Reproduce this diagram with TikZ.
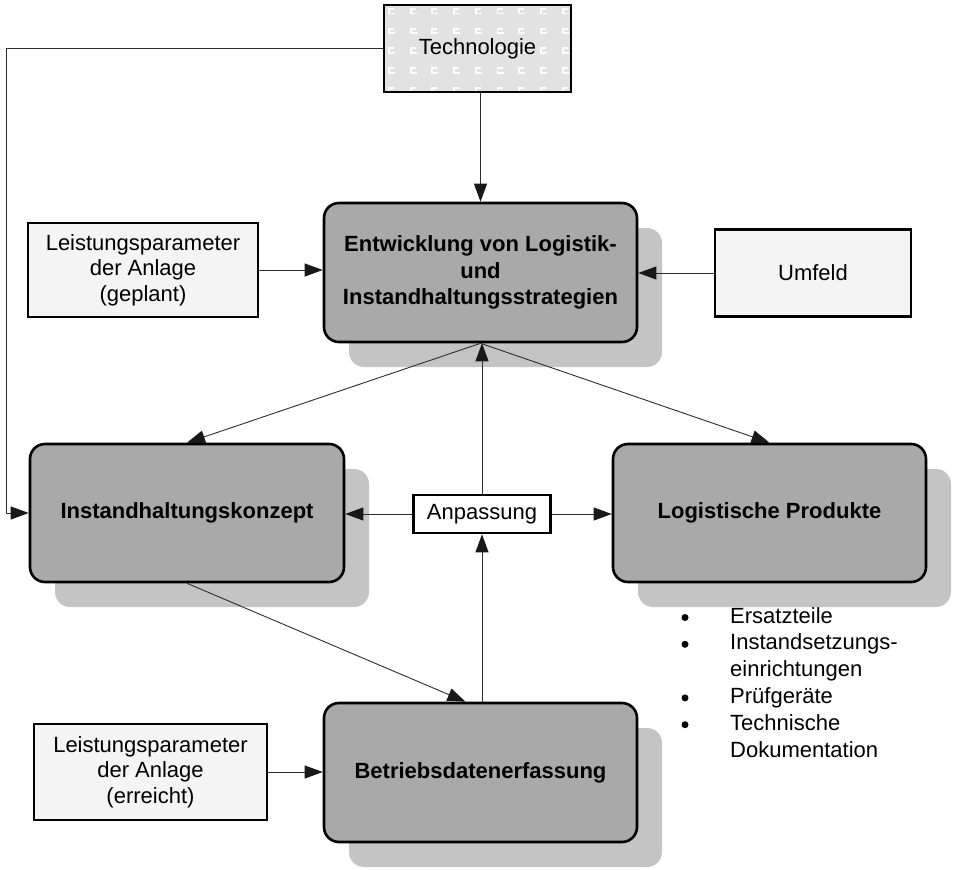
\documentclass[tikz,border=0pt]{standalone}
\usepackage{fontspec}
\setmainfont{Liberation Sans}
\usetikzlibrary{arrows.meta,shadows}
\definecolor{boxgray}{RGB}{169,169,169}
\definecolor{shadowgray}{RGB}{196,196,196}
\definecolor{techgray}{RGB}{226,226,226}
\definecolor{inputfill}{RGB}{244,244,244}
\definecolor{linegray}{RGB}{45,45,45}

\begin{document}
\begin{tikzpicture}[x=1pt,y=-1pt,
  mainbox/.style={draw=black, line width=2.6pt, fill=boxgray, rounded corners=15pt,
    minimum width=313pt, minimum height=139pt, inner sep=0pt, align=center,
    font=\fontsize{22}{26.5}\selectfont\bfseries,
    drop shadow={shadow xshift=25pt, shadow yshift=-25pt, fill=shadowgray, opacity=1}},
  inputbox/.style={draw=black, line width=2.6pt, fill=inputfill, inner sep=0pt,
    align=center, font=\fontsize{22}{25.5}\selectfont},
  techbox/.style={draw=black, line width=2.6pt, fill=techgray, inner sep=0pt,
    minimum width=187pt, minimum height=87pt, font=\fontsize{22}{25.5}\selectfont,
    path picture={
      \foreach \i in {0,...,8}
        \foreach \j in {0,...,4}
          \draw[white, line width=1.9pt]
            ([shift={(10+\i*21.7,4+\j*19.7)}]path picture bounding box.north west)
            -- ++(-5,0) -- ++(0,4.5) -- ++(6,0);
    }},
  smallbox/.style={draw=black, line width=2.6pt, fill=white, inner sep=0pt,
    minimum width=137pt, minimum height=38pt, font=\fontsize{22}{25.5}\selectfont},
  listitem/.style={anchor=base west, inner sep=0pt, font=\fontsize{22}{26.8}\selectfont},
  listdot/.style={circle, fill=black, inner sep=0pt, minimum size=7pt},
  conn/.style={draw=linegray, line width=0.9pt},
  arr/.style={conn, -{Triangle[length=18pt,width=13pt,color=black!90]}}
]
\useasboundingbox (0,0) rectangle (954,870);

% input boxes
\node[techbox] (tech) at (477.5,48.5) {Technologie};
\node[inputbox, minimum width=230pt, minimum height=94pt] (plan) at (143,270)
  {Leistungsparameter\\der Anlage\\(geplant)};
\node[inputbox, minimum width=196pt, minimum height=87pt] (umf) at (813,273) {Umfeld};
\node[inputbox, minimum width=233pt, minimum height=96pt] (ist) at (150.5,772)
  {Leistungsparameter\\der Anlage\\(erreicht)};

% main process boxes
\node[mainbox] (ent) at (480.5,272.5) {Entwicklung von Logistik-\\und\\Instandhaltungsstrategien};
\node[mainbox, minimum width=314pt, minimum height=138pt] (inst) at (187,513) {Instandhaltungskonzept};
\node[mainbox, minimum height=138pt] (logi) at (769.5,513) {Logistische Produkte};
\node[mainbox] (betr) at (480.5,772.5) {Betriebsdatenerfassung};

\node[smallbox] (anp) at (482,514) {Anpassung};

% list of logistic products
\node[listitem] (l1) at (730,623)   {Ersatzteile};
\node[listitem] (l2) at (730,649.8) {Instandsetzungs-};
\node[listitem] (l3) at (730,676.6) {einrichtungen};
\node[listitem] (l4) at (730,703.4) {Prüfgeräte};
\node[listitem] (l5) at (730,730.2) {Technische};
\node[listitem] (l6) at (730,757)   {Dokumentation};
\node[listdot] (d1) at (685,617.5) {};
\node[listdot] (d2) at (685,644.3) {};
\node[listdot] (d4) at (685,697.9) {};
\node[listdot] (d5) at (685,724.7) {};

% connectors
\coordinate (lx) at (6,0);
\draw[arr] (tech.south -| ent.north) -- (ent.north);
\draw[arr] (tech.west) -- (tech.west -| lx) |- (inst.west);
\draw[arr] (plan.east) -- (plan.east -| ent.west);
\draw[arr] (umf.west) -- (umf.west -| ent.east);
\draw[arr] (ist.east) -- (ist.east -| betr.west);
\draw[arr] (ent.south) -- (inst.north);
\draw[arr] (ent.south) -- (logi.north);
\draw[arr] (inst.south) -- ([xshift=-15pt]betr.north);
\draw[arr] (anp.north) -- (anp.north |- ent.south);
\draw[arr] (betr.north -| anp.south) -- (anp.south);
\draw[arr] (anp.west) -- (anp.west -| inst.east);
\draw[arr] (anp.east) -- (anp.east -| logi.west);
\end{tikzpicture}
\end{document}
